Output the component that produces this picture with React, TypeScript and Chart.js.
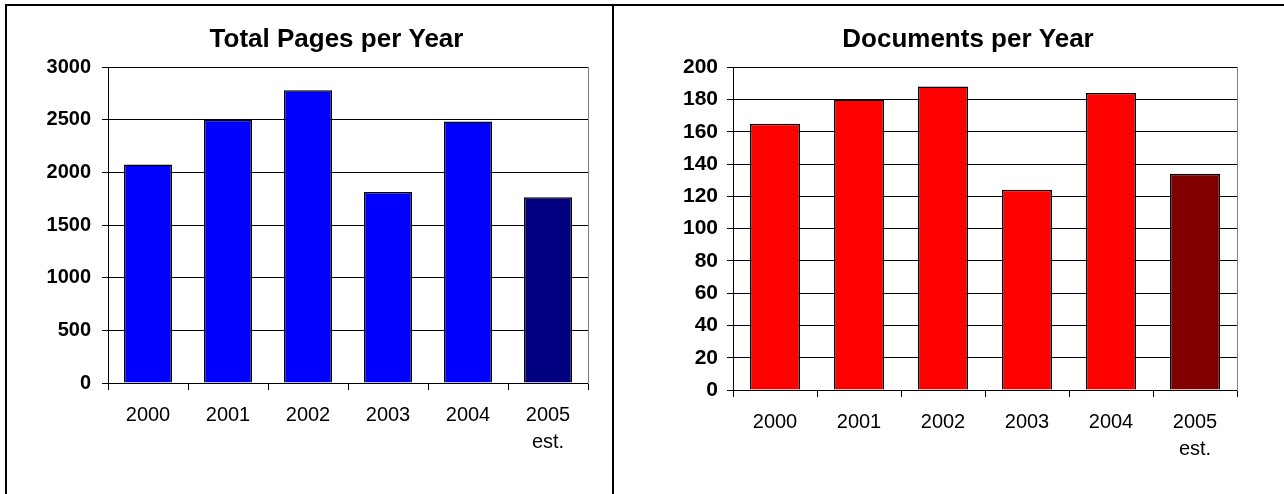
import React, { useEffect, useRef } from "react";
import { Chart, registerables } from "chart.js";

Chart.register(...registerables);

// Categories along the x axis (the last one is an estimate, shown on two lines)
const categories: (string | string[])[] = ["2000", "2001", "2002", "2003", "2004", ["2005", "est."]];

// Total pages per year
const totalPages = [2075, 2500, 2780, 1815, 2485, 1765];
const pageTicks = [0, 500, 1000, 1500, 2000, 2500, 3000];
const pageColors = ["#0000FF", "#0000FF", "#0000FF", "#0000FF", "#0000FF", "#000080"];

// Documents per year
const documents = [165, 180, 188, 124, 184, 134];
const documentTicks = [0, 20, 40, 60, 80, 100, 120, 140, 160, 180, 200];
const documentColors = ["#FF0000", "#FF0000", "#FF0000", "#FF0000", "#FF0000", "#800000"];

const FONT = "Arial, 'Liberation Sans', Helvetica, sans-serif";

type PanelProps = {
  left: number;
  top: number;
  width: number;
  height: number;
  title: string;
  values: number[];
  colors: string[];
  ticks: number[];
  barPercentage: number;
  padLeft: number;
  padRight: number;
  padBottom: number;
  yWidth: number;
  rightWidth: number;
  yFontSize: number;
  yPadding: number;
};

function BarPanel(p: PanelProps) {
  const ref = useRef<HTMLCanvasElement | null>(null);

  useEffect(() => {
    if (!ref.current) return;
    const chart = new Chart(ref.current, {
      type: "bar",
      data: {
        labels: categories,
        datasets: [
          {
            data: p.values,
            backgroundColor: p.colors,
            borderColor: "#000000",
            borderWidth: 1.5,
            inflateAmount: 0,
            categoryPercentage: 1,
            barPercentage: p.barPercentage,
            yAxisID: "y",
          },
        ],
      },
      options: {
        responsive: false,
        animation: false,
        events: [],
        layout: {
          padding: { left: p.padLeft, right: p.padRight, top: 0, bottom: p.padBottom },
        },
        plugins: {
          legend: { display: false },
          tooltip: { enabled: false },
          title: {
            display: true,
            text: p.title,
            color: "#000000",
            font: { family: FONT, size: 26, weight: "bold", lineHeight: 1.2 },
            padding: { top: 16, bottom: 12 },
          },
        },
        scales: {
          x: {
            grid: {
              offset: true,
              drawOnChartArea: false,
              color: "#000000",
              tickColor: "#000000",
              tickLength: 7,
              lineWidth: 1,
            },
            border: { display: true, color: "#000000", width: 1 },
            ticks: {
              color: "#000000",
              font: { family: FONT, size: 20, lineHeight: 1.35 },
              padding: 12,
              maxRotation: 0,
              autoSkip: false,
            },
            afterFit: (s: any) => {
              s.height = 70;
            },
          },
          y: {
            position: "left",
            min: p.ticks[0],
            max: p.ticks[p.ticks.length - 1],
            grid: { color: "#000000", tickColor: "#000000", tickLength: 6, lineWidth: 1 },
            border: { display: true, color: "#000000", width: 1 },
            ticks: {
              stepSize: p.ticks[1] - p.ticks[0],
              callback: (v: any) => String(v),
              color: "#000000",
              font: { family: FONT, size: p.yFontSize, weight: "bold" },
              padding: p.yPadding,
            },
            afterFit: (s: any) => {
              s.width = p.yWidth;
            },
          },
          // empty axis on the right: closes the plot frame with a grey line
          frame: {
            type: "linear",
            position: "right",
            min: 0,
            max: 1,
            grid: { drawOnChartArea: false, drawTicks: false },
            border: { display: true, color: "#808080", width: 1 },
            ticks: { display: false },
            afterFit: (s: any) => {
              s.width = p.rightWidth;
            },
          },
        },
      },
    } as any);
    return () => chart.destroy();
  }, []);

  return (
    <canvas
      ref={ref}
      width={p.width}
      height={p.height}
      style={{ position: "absolute", left: p.left, top: p.top, width: p.width, height: p.height }}
    />
  );
}

export default function App() {
  const line = { position: "absolute" as const, background: "#000000" };
  return (
    <div
      style={{
        position: "absolute",
        left: 0,
        top: 0,
        width: 1284,
        height: 494,
        background: "#ffffff",
        overflow: "hidden",
      }}
    >
      <div style={{ ...line, left: 5, top: 4, width: 1279, height: 2 }} />
      <div style={{ ...line, left: 5, top: 4, width: 2, height: 490 }} />
      <div style={{ ...line, left: 612, top: 4, width: 2, height: 490 }} />
      <BarPanel
        left={8}
        top={8}
        width={628}
        height={486}
        title="Total Pages per Year"
        values={totalPages}
        colors={pageColors}
        ticks={pageTicks}
        barPercentage={0.6}
        padLeft={30}
        padRight={1}
        padBottom={41}
        yWidth={70}
        rightWidth={47}
        yFontSize={20}
        yPadding={11}
      />
      <BarPanel
        left={616}
        top={8}
        width={668}
        height={486}
        title="Documents per Year"
        values={documents}
        colors={documentColors}
        ticks={documentTicks}
        barPercentage={0.595}
        padLeft={40}
        padRight={4}
        padBottom={34}
        yWidth={77}
        rightWidth={43}
        yFontSize={21}
        yPadding={9}
      />
    </div>
  );
}
